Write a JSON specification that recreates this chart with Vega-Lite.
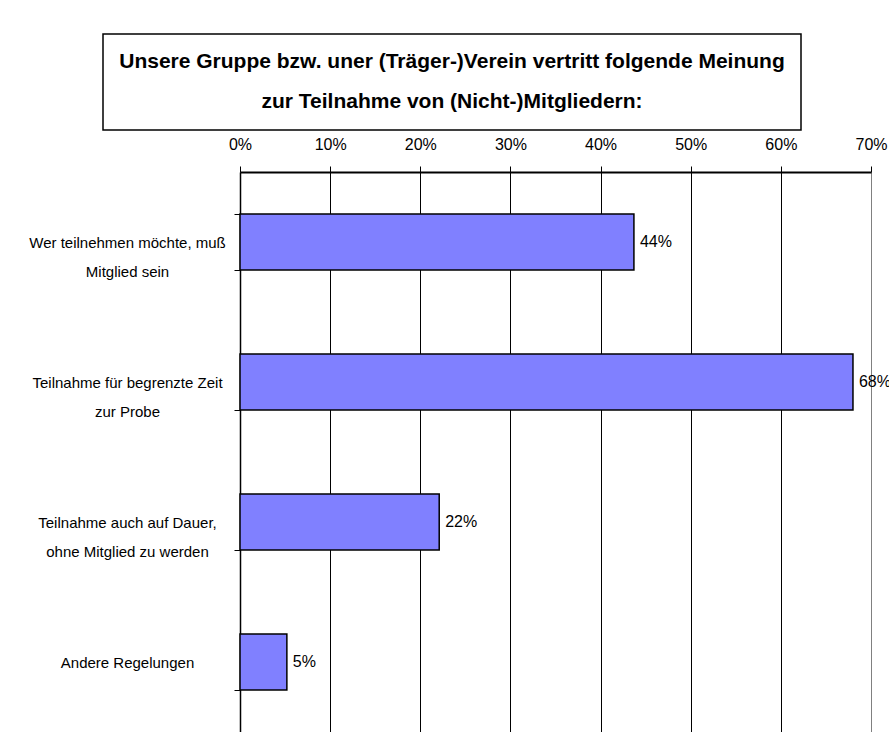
{
  "$schema": "https://vega.github.io/schema/vega-lite/v6.json",
  "padding": {"left": 28, "top": 33, "right": 0, "bottom": 0},
  "background": "white",
  "datasets": {
    "bars": [
      {"cat": "Wer teilnehmen möchte, muß\nMitglied sein", "share": 0.437},
      {"cat": "Teilnahme für begrenzte Zeit\nzur Probe", "share": 0.68},
      {"cat": "Teilnahme auch auf Dauer,\nohne Mitglied zu werden", "share": 0.221},
      {"cat": "Andere Regelungen", "share": 0.052}
    ],
    "title": [
      {"line": 1, "text": "Unsere Gruppe bzw. uner (Träger-)Verein vertritt folgende Meinung"},
      {"line": 2, "text": "zur Teilnahme von (Nicht-)Mitgliedern:"}
    ]
  },
  "vconcat": [
    {
      "width": 698,
      "height": 96,
      "view": {"stroke": "black", "strokeWidth": 1.5, "fill": "white"},
      "data": {"name": "title"},
      "mark": {"type": "text", "font": "Liberation Sans", "fontWeight": "bold", "fontSize": 21, "align": "center", "baseline": "middle", "color": "black"},
      "encoding": {
        "y": {"field": "line", "type": "ordinal", "axis": null, "scale": {"type": "point", "padding": 0.73}},
        "text": {"field": "text"}
      }
    },
    {
      "width": 768,
      "height": 560,
      "view": {"stroke": null},
      "data": {"name": "bars"},
      "encoding": {
        "y": {
          "field": "cat", "type": "nominal", "sort": null, "title": null,
          "scale": {"paddingInner": 0.6, "paddingOuter": 0.3},
          "axis": {
            "offset": -137,
            "labelExpr": "isValid(datum.value) ? split(datum.value, '\\n') : ''",
            "labelFont": "Liberation Sans", "labelFontSize": 15, "labelColor": "black",
            "labelLineHeight": 29, "labelAlign": "center", "labelPadding": 107, "labelLimit": 400,
            "tickBand": "extent", "tickSize": 6, "tickColor": "black", "domainColor": "black", "domainWidth": 1.5,
            "grid": false,
            "encode": {"labels": {"update": {"dx": {"signal": "datum.value == 'Andere Regelungen' ? 31 : 0"}}}}
          }
        }
      },
      "layer": [
        {
          "mark": {"type": "bar", "fill": "#8080FF", "stroke": "black", "strokeWidth": 1.5},
          "encoding": {
            "x": {
              "field": "share", "type": "quantitative", "title": null,
              "scale": {"domain": [0, 0.7], "nice": false, "range": [137, 768]},
              "axis": {
                "orient": "top", "format": ".0%", "values": [0, 0.1, 0.2, 0.3, 0.4, 0.5, 0.6, 0.7],
                "labelFont": "Liberation Sans", "labelFontSize": 16, "labelColor": "black",
                "labelFlush": false, "labelOverlap": false, "labelPadding": 14,
                "tickSize": 6, "tickColor": "black", "domainColor": "black", "domainWidth": 2,
                "grid": true, "gridOpacity": 1, "gridWidth": 1,
                "gridColor": {"condition": {"test": "datum.value >= 0.69", "value": "#808080"}, "value": "black"}
              }
            }
          }
        },
        {
          "mark": {"type": "text", "align": "left", "baseline": "middle", "dx": 6, "font": "Liberation Sans", "fontSize": 16, "color": "black"},
          "encoding": {
            "x": {"field": "share", "type": "quantitative"},
            "text": {"field": "share", "type": "quantitative", "format": ".0%"}
          }
        }
      ]
    }
  ],
  "spacing": 5,
  "config": {"font": "Liberation Sans"}
}
